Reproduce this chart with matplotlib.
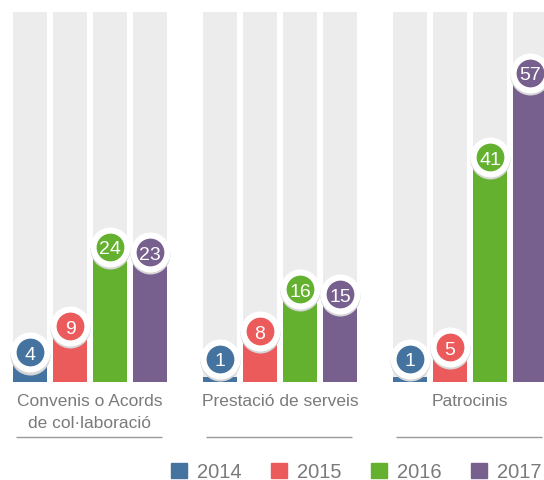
import numpy as np
import matplotlib.pyplot as plt
from matplotlib.patches import Patch
from matplotlib.transforms import blended_transform_factory

categories = ["Convenis o Acords\nde col·laboració", "Prestació de serveis", "Patrocinis"]
years = ["2014", "2015", "2016", "2017"]
values_2014 = [4, 1, 1]
values_2015 = [9, 8, 5]
values_2016 = [24, 16, 41]
values_2017 = [23, 15, 57]
colors = ["#44739f", "#ec5b5c", "#63b12f", "#775f8e"]

series = [values_2014, values_2015, values_2016, values_2017]
track_max = 70  # height of the grey background bars

font = ['Liberation Sans', 'DejaVu Sans']
grey_txt = '#7a7a7a'

fig = plt.figure(figsize=(5.44, 4.81), dpi=100)
ax = fig.add_axes([0, 0, 1, 1])
ax.set_xlim(-0.75, 12.85)
ax.set_ylim(-18.56, 72.54)
ax.axis('off')

group_step = 4.75
width = 0.85
groups = np.arange(len(categories)) * group_step

for i, (vals, col) in enumerate(zip(series, colors)):
    x = groups + i
    ax.bar(x, track_max, width=width, color='#ececec', zorder=1)
    ax.bar(x, vals, width=width, color=col, zorder=2)
    # value badges sit just above the bar top, never too close to the baseline
    ypos = np.maximum(np.array(vals) + 1.6, 4.4)
    ax.scatter(x, ypos - 0.4, s=830, color='#d6d6d6', linewidths=0, zorder=3 + i)
    ax.scatter(x, ypos, s=830, color='white', linewidths=0, zorder=3 + i)
    ax.scatter(x, ypos, s=400, color=col, linewidths=0, zorder=3 + i)
    for xx, yy, v in zip(x, ypos, vals):
        ax.text(xx, yy, str(v), color='white', ha='center', va='center_baseline',
                fontsize=14, family=font, zorder=3 + i)

trans = blended_transform_factory(ax.transData, ax.transAxes)
for g, name in zip(groups, categories):
    ax.text(g + 1.5, 1 - 394 / 481, name, transform=trans, ha='center', va='top',
            fontsize=12.5, family=font, color=grey_txt, linespacing=1.55)
    ax.plot([g - 0.35, g + 3.3], [1 - 437.5 / 481] * 2, transform=trans,
            color='#9a9a9a', lw=1.0, solid_capstyle='butt')

handles = [Patch(color=c) for c in colors]
fig.legend(handles, years, ncol=4, loc='center right', bbox_to_anchor=(0.995, 0.017),
           frameon=False, borderpad=0, borderaxespad=0, handlelength=0.8,
           handleheight=0.8, handletextpad=0.5, columnspacing=1.45,
           labelcolor=grey_txt, prop={'family': font, 'size': 14.5})

plt.savefig('out.png', dpi=100)
